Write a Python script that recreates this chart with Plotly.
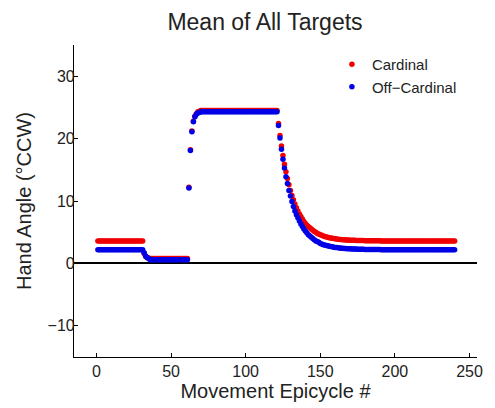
import plotly.graph_objects as go

# Epicycle numbers 1..240
epicycles = list(range(1, 241))

# Cardinal (red) hand angle by phase
card_base = [3.6] * 31                      # epicycles 1-31
card_drop = [1.6, 1.1, 0.9, 0.85]           # 32-35
card_low = [0.8] * 26                       # 36-61
card_ramp = [12.2, 18.2, 21.2, 22.8, 23.6, 24.0, 24.3, 24.4]   # 62-69
card_plateau = [24.5] * 52                  # 70-121
card_decay = [22.4, 20.5, 18.8, 17.3, 15.9, 14.7, 13.6, 12.6, 11.7, 10.9,
              10.2, 9.5, 8.9, 8.4, 7.9, 7.5, 7.1, 6.7, 6.4, 6.1,
              5.9, 5.7, 5.5, 5.3, 5.1, 5.0, 4.8, 4.7, 4.6, 4.5,
              4.4, 4.3, 4.25, 4.18, 4.12, 4.07, 4.02, 3.98, 3.94, 3.91,
              3.88, 3.85, 3.83, 3.80, 3.78, 3.77, 3.75, 3.74, 3.72, 3.71,
              3.70, 3.69, 3.68, 3.67, 3.66, 3.66, 3.65, 3.65, 3.64, 3.64,
              3.63, 3.63, 3.62, 3.62, 3.62, 3.61, 3.61, 3.61, 3.61]  # 122-190
card_tail = [3.6] * 50                      # 191-240

# Off-Cardinal (blue) hand angle by phase
off_base = [2.2] * 31
off_drop = [1.7, 1.2, 0.95, 0.8]
off_low = [0.6] * 26
off_ramp = [12.1, 18.1, 21.1, 22.7, 23.5, 23.9, 24.1, 24.2]
off_plateau = [24.3] * 52
off_decay = [22.1, 20.1, 18.3, 16.7, 15.3, 13.9, 12.8, 11.7, 10.8, 9.9,
             9.1, 8.4, 7.8, 7.3, 6.8, 6.3, 5.9, 5.5, 5.2, 4.9,
             4.6, 4.4, 4.2, 4.0, 3.8, 3.6, 3.5, 3.4, 3.2, 3.1,
             3.0, 2.96, 2.88, 2.81, 2.75, 2.70, 2.65, 2.60, 2.56, 2.53,
             2.49, 2.47, 2.44, 2.41, 2.39, 2.37, 2.36, 2.34, 2.33, 2.32,
             2.31, 2.30, 2.29, 2.28, 2.27, 2.26, 2.25, 2.25, 2.24, 2.24,
             2.23, 2.23, 2.22, 2.22, 2.22, 2.21, 2.21, 2.21, 2.21]
off_tail = [2.2] * 50

cardinal = card_base + card_drop + card_low + card_ramp + card_plateau + card_decay + card_tail
off_cardinal = off_base + off_drop + off_low + off_ramp + off_plateau + off_decay + off_tail

x_ticks = [0, 50, 100, 150, 200, 250]
y_ticks = [-10, 0, 10, 20, 30]

FONT = "Liberation Sans, Arial, sans-serif"

fig = go.Figure()
fig.add_trace(go.Scatter(x=epicycles, y=cardinal, mode="markers", name="Cardinal",
                         marker=dict(color="rgb(240,0,0)", size=5.5, line=dict(width=0))))
fig.add_trace(go.Scatter(x=epicycles, y=off_cardinal, mode="markers", name="Off\u2212Cardinal",
                         marker=dict(color="rgb(0,0,230)", size=5.5, line=dict(width=0))))

fig.update_layout(
    width=495, height=408,
    margin=dict(l=74, r=12, t=45, b=51),
    paper_bgcolor="white", plot_bgcolor="white",
    font=dict(family=FONT, color="#222222", size=16),
    title=dict(text="Mean of All Targets", x=265/495, xanchor="center",
               y=1 - 22/408, yanchor="middle", yref="container", xref="container",
               font=dict(size=23, color="#222222")),
    showlegend=True,
    legend=dict(x=0.64, y=0.99, xanchor="left", yanchor="top",
                bgcolor="rgba(0,0,0,0)", font=dict(size=15), itemwidth=30,
                tracegroupgap=0),
    xaxis=dict(range=[-15, 255], tickvals=x_ticks, showgrid=False, zeroline=False,
               showline=True, linecolor="black", linewidth=1.2,
               ticks="inside", ticklen=4, tickcolor="black",
               title=dict(text="Movement Epicycle #", font=dict(size=20), standoff=1)),
    yaxis=dict(range=[-15, 35], tickvals=y_ticks, showgrid=False, zeroline=True,
               zerolinecolor="black", zerolinewidth=1.5,
               showline=True, linecolor="black", linewidth=1.2,
               ticks="inside", ticklen=4, tickcolor="black", ticklabelstandoff=-5,
               title=dict(text="Hand Angle (\u00b0CCW)", font=dict(size=20), standoff=10)),
)

fig.write_html("out.html")
